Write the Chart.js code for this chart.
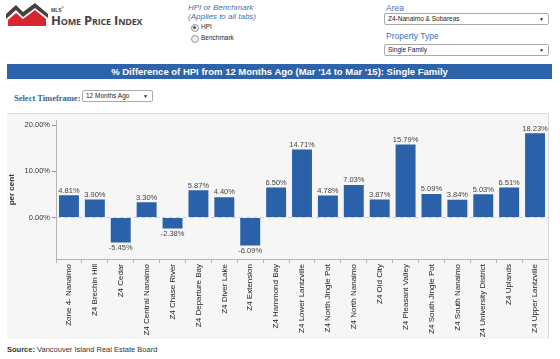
<!DOCTYPE html>
<html>
<head>
<meta charset="utf-8">
<script src="https://cdn.jsdelivr.net/npm/chart.js@4.4.1/dist/chart.umd.min.js"></script>
<style>
  body { margin: 0; width: 560px; height: 359px; background: #fff; font-family: "Liberation Sans", Arial, sans-serif; position: relative; overflow: hidden; }
  .abs { position: absolute; }
  .blue { color: #3d6fb5; }
  .sel { position: absolute; height: 10px; border: 1px solid #aaa; border-radius: 2px; background: #fff; font-size: 6.5px; line-height: 10px; padding-left: 3px; color: #222; box-sizing: content-box; }
  .sel:after { content: "\25BC"; position: absolute; right: 4px; top: 0; font-size: 5px; }
  .radio { position: absolute; width: 6px; height: 6px; border: 1px solid #999; border-radius: 50%; background: #eee; }
  #panel { position: absolute; left: 7px; top: 113px; width: 541px; height: 225px; background: #f6f6f6; border-top: 1px solid #dcdcdc; border-right: 1px solid #dcdcdc; }
  #wrap { position: absolute; left: 0; top: 0; width: 541px; height: 225px; }
</style>
</head>
<body>
<!-- header -->
<svg class="abs" style="left:6px;top:3px" width="42" height="23" viewBox="0 0 42 23">
  <polygon points="0,11 10,2 17,9 29,0 42,11 42,15 29,5 17,14 10,7 0,16" fill="#4a3f3f"/>
  <polygon points="2,23 2,17 10,10 17,16 29,7 40,16 40,23" fill="#d8262e"/>
</svg>
<div class="abs" style="left:51px;top:6px;font-size:5px;color:#4a3f3f;font-weight:bold">MLS<sup style="font-size:3px">®</sup></div>
<div class="abs" style="left:51px;top:11px;font-size:13px;font-weight:bold;color:#4a3f3f;font-variant:small-caps;letter-spacing:-0.2px;font-family:'Open Sans',sans-serif">Home Price Index</div>

<div class="abs blue" style="left:188px;top:3px;font-size:8px;font-style:italic">HPI or Benchmark</div>
<div class="abs blue" style="left:188px;top:12px;font-size:8px;font-style:italic">(Applies to all tabs)</div>
<div class="radio" style="left:191px;top:24px"></div>
<div class="abs" style="left:193px;top:26px;width:3px;height:3px;border-radius:50%;background:#555"></div>
<div class="abs" style="left:201px;top:23px;font-size:6.5px;color:#222">HPI</div>
<div class="radio" style="left:191px;top:35px"></div>
<div class="abs" style="left:201px;top:34px;font-size:6.5px;color:#222">Benchmark</div>

<div class="abs blue" style="left:386px;top:3px;font-size:8.5px">Area</div>
<div class="sel" style="left:384px;top:13px;width:160px">Z4-Nanaimo &amp; Subareas</div>
<div class="abs blue" style="left:386px;top:31px;font-size:8.5px">Property Type</div>
<div class="sel" style="left:384px;top:44px;width:160px">Single Family</div>

<div class="abs" style="left:7px;top:64px;width:545px;height:15px;background:#2c63ab;color:#fff;font-weight:bold;font-size:9.5px;line-height:15px;text-align:center">% Difference of HPI from 12 Months Ago (Mar '14 to Mar '15): Single Family</div>

<div class="abs" style="left:14px;top:93px;font-size:8.5px;font-weight:bold;color:#3a5f94;font-family:'Liberation Serif',serif">Select Timeframe:</div>
<div class="sel" style="left:82px;top:90px;width:66px">12 Months Ago</div>

<div id="panel"><div id="wrap"><canvas id="chart"></canvas></div></div>

<div class="abs" style="left:7px;top:345px;font-size:7.5px;color:#333"><span style="font-weight:bold">Source:</span> Vancouver Island Real Estate Board</div>

<script>
const areas = ["Zone 4- Nanaimo", "Z4 Brechin Hill", "Z4 Cedar", "Z4 Central Nanaimo", "Z4 Chase River",
  "Z4 Departure Bay", "Z4 Diver Lake", "Z4 Extension", "Z4 Hammond Bay", "Z4 Lower Lantzville",
  "Z4 North Jingle Pot", "Z4 North Nanaimo", "Z4 Old City", "Z4 Pleasant Valley", "Z4 South Jingle Pot",
  "Z4 South Nanaimo", "Z4 University District", "Z4 Uplands", "Z4 Upper Lantzville"];
const pctChange = [4.81, 3.90, -5.45, 3.30, -2.38, 5.87, 4.40, -6.09, 6.50, 14.71,
  4.78, 7.03, 3.87, 15.79, 5.09, 3.84, 5.03, 6.51, 18.23];
const yTicks = [0, 10, 20];

// writes the % value above (or under) each bar
const valueLabels = {
  id: 'valueLabels',
  afterDatasetsDraw(chart) {
    const c = chart.ctx;
    const meta = chart.getDatasetMeta(0);
    c.save();
    c.font = '7.5px "Liberation Sans", Arial';
    c.fillStyle = '#444';
    c.textAlign = 'center';
    meta.data.forEach((bar, i) => {
      const v = pctChange[i];
      if (v >= 0) {
        c.textBaseline = 'bottom';
        c.fillText(v.toFixed(2) + '%', bar.x, bar.y - 1);
      } else {
        c.textBaseline = 'top';
        c.fillText(v.toFixed(2) + '%', bar.x, bar.y + 2);
      }
    });
    c.restore();
  }
};

const ctx = document.getElementById('chart');
new Chart(ctx, {
  type: 'bar',
  data: {
    labels: areas,
    datasets: [{
      data: pctChange,
      backgroundColor: '#2b61a8',
      barPercentage: 0.77,
      categoryPercentage: 1
    }]
  },
  options: {
    responsive: true,
    maintainAspectRatio: false,
    animation: false,
    layout: { padding: 0 },
    plugins: { legend: { display: false }, tooltip: { enabled: false } },
    scales: {
      x: {
        grid: { drawOnChartArea: false, offset: true, tickLength: 4, tickColor: '#b5b5b5' },
        border: { color: '#b5b5b5' },
        ticks: { minRotation: 90, maxRotation: 90, autoSkip: false, padding: 1, color: '#222',
          font: { size: 8, family: '"Liberation Sans", Arial' } },
        afterFit(scale) { scale.height = 80; }
      },
      y: {
        min: -9,
        max: 21,
        afterBuildTicks(scale) { scale.ticks = yTicks.map(v => ({ value: v })); },
        grid: {
          color: (c) => c.tick && c.tick.value === 0 ? '#cfcfcf' : 'rgba(0,0,0,0)',
          tickColor: '#999', tickLength: 4
        },
        border: { color: '#b5b5b5', dash: [4, 3] },
        ticks: { color: '#333', padding: 2, font: { size: 7.5, family: '"Liberation Sans", Arial' },
          callback: (v) => v.toFixed(2) + '%' },
        title: { display: true, text: 'per cent', color: '#333', padding: 0,
          font: { size: 8, weight: 'bold', family: '"Liberation Sans", Arial' } },
        afterFit(scale) { scale.width = 49; }
      }
    }
  },
  plugins: [valueLabels]
});
</script>
</body>
</html>
